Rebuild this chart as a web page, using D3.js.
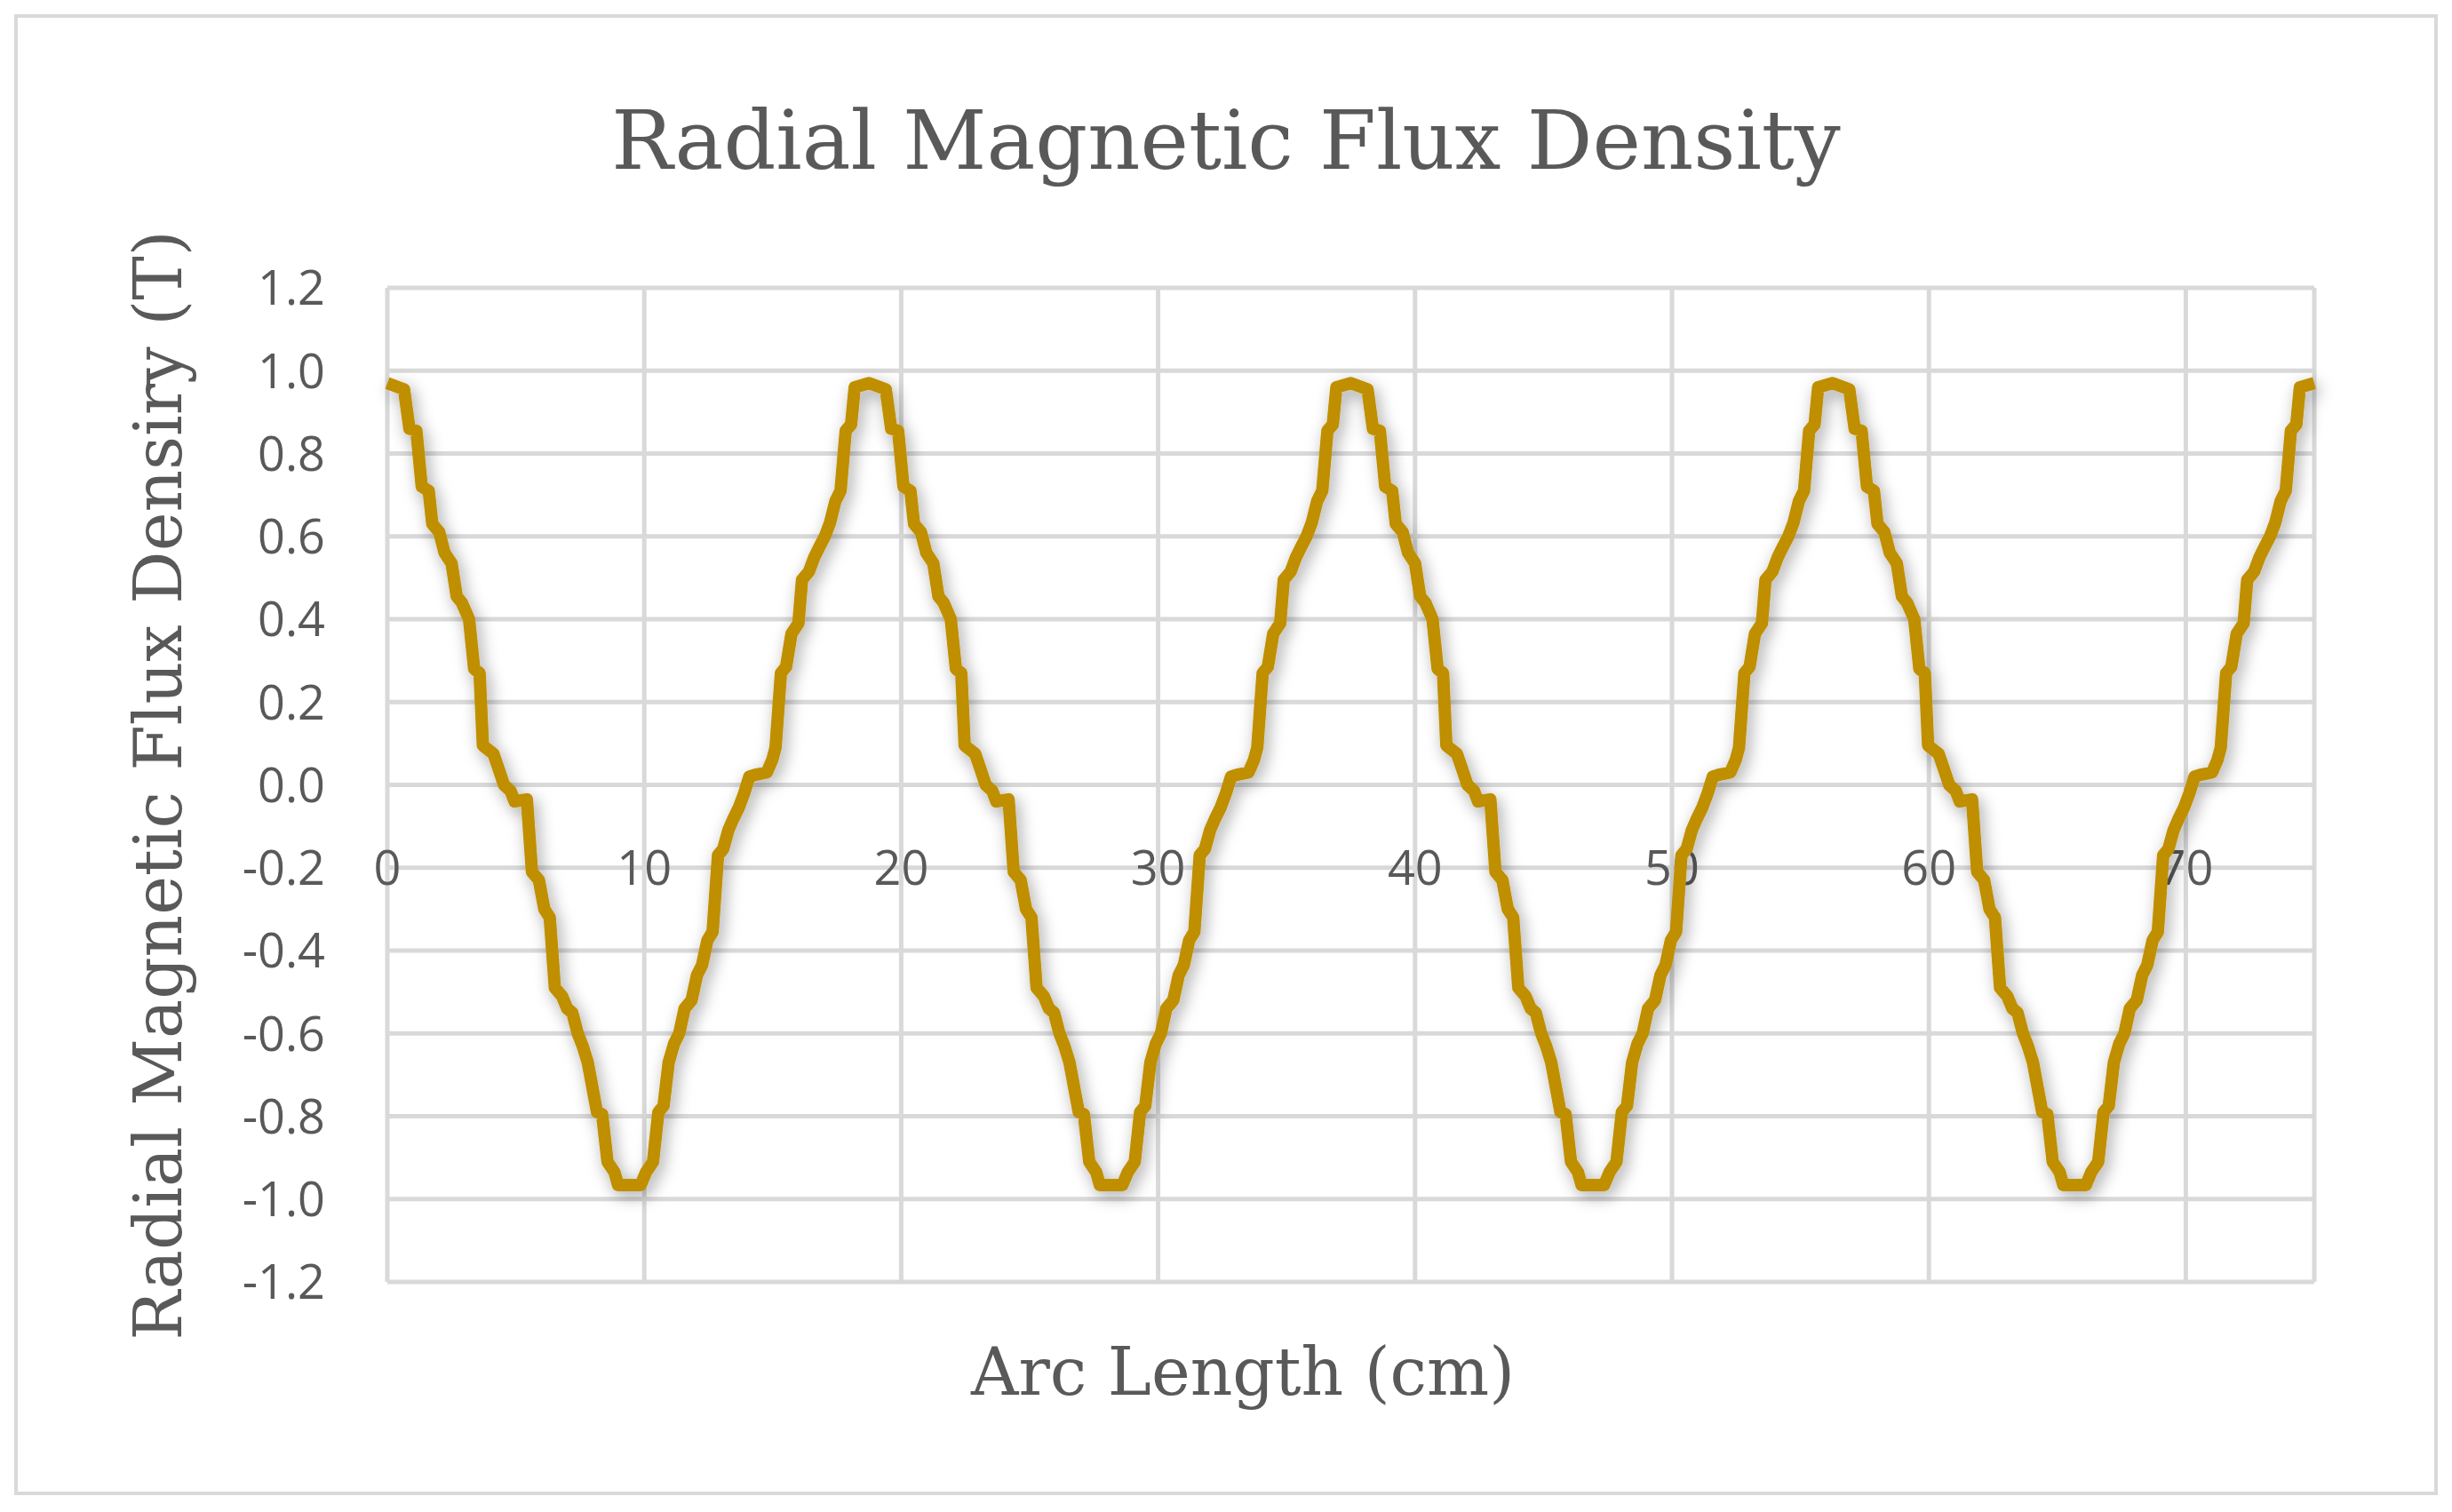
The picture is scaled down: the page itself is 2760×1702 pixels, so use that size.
<!DOCTYPE html>
<html>
<head>
<meta charset="utf-8">
<script src="https://cdn.jsdelivr.net/npm/d3@7"></script>
<style>
  body { margin: 0; background: #fff; }
</style>
</head>
<body>
<svg id="chart" width="2760" height="1702"></svg>
<script>
// ---- data ----
// one period of the wave (arc length cm, flux T), starting at a peak
const periodX = [0, 0.65, 0.86, 1.13, 1.34, 1.61, 1.75, 2.02, 2.23, 2.5, 2.7, 2.9, 3.18, 3.38, 3.59, 3.72,
  4.13, 4.34, 4.54, 4.8, 4.95, 5.43, 5.63, 5.9, 6.11, 6.32, 6.52, 6.8, 7.0, 7.2, 7.41, 7.6, 7.8, 8.16, 8.36,
  8.57, 8.84, 8.98, 9.86, 10.07, 10.34, 10.55, 10.75, 10.95, 11.16, 11.36, 11.57, 11.84, 12.05, 12.25, 12.46,
  12.66, 12.87, 13.07, 13.27, 13.48, 13.68, 13.89, 14.09, 14.37, 14.77, 14.98, 15.11, 15.32, 15.52, 15.73,
  16.0, 16.14, 16.41, 16.62, 16.82, 17.03, 17.23, 17.44, 17.64, 17.84, 18.05, 18.19];
const periodY = [0.97, 0.955, 0.86, 0.855, 0.72, 0.71, 0.63, 0.61, 0.56, 0.535, 0.455, 0.44, 0.40, 0.28, 0.27, 0.095,
  0.075, 0.037, 0.0, -0.015, -0.04, -0.035, -0.21, -0.23, -0.30, -0.32, -0.49, -0.51, -0.54, -0.55, -0.60, -0.63, -0.67, -0.79, -0.795,
  -0.91, -0.935, -0.966, -0.966, -0.935, -0.91, -0.79, -0.775, -0.67, -0.625, -0.60, -0.54, -0.52, -0.46, -0.435, -0.375,
  -0.355, -0.17, -0.155, -0.11, -0.08, -0.055, -0.02, 0.02, 0.025, 0.03, 0.06, 0.09, 0.27, 0.285, 0.365,
  0.39, 0.495, 0.515, 0.55, 0.575, 0.60, 0.633, 0.685, 0.71, 0.855, 0.87, 0.96];
const periodStarts = [0, 18.75, 37.5, 56.25];
const endPoint = [75, 0.97];

const xTicks = [0, 10, 20, 30, 40, 50, 60, 70];
const yTicks = [1.2, 1.0, 0.8, 0.6, 0.4, 0.2, 0.0, -0.2, -0.4, -0.6, -0.8, -1.0, -1.2];

const points = [];
periodStarts.forEach(s => periodX.forEach((px, i) => points.push([s + px, periodY[i]])));
points.push(endPoint);

// ---- layout ----
const svg = d3.select('#chart');
const plotLeft = 436, plotRight = 2605, plotTop = 324, plotBottom = 1443;
const x = d3.scaleLinear().domain([0, 75]).range([plotLeft, plotRight]);
const y = d3.scaleLinear().domain([-1.2, 1.2]).range([plotBottom, plotTop]);
const grey = '#d9d9d9', txt = '#595959';

svg.append('rect').attr('x', 18).attr('y', 18).attr('width', 2724).attr('height', 1663)
  .attr('fill', '#fff').attr('stroke', grey).attr('stroke-width', 4);

// gridlines
svg.append('g').selectAll('line').data(yTicks).join('line')
  .attr('x1', plotLeft).attr('x2', plotRight).attr('y1', d => y(d)).attr('y2', d => y(d))
  .attr('stroke', grey).attr('stroke-width', 5);
svg.append('g').selectAll('line').data(xTicks.concat([75])).join('line')
  .attr('x1', d => x(d)).attr('x2', d => x(d)).attr('y1', plotTop).attr('y2', plotBottom)
  .attr('stroke', grey).attr('stroke-width', 5);

// tick labels
svg.append('g').selectAll('text').data(yTicks).join('text')
  .attr('x', 366).attr('y', d => y(d)).attr('dy', '0.36em').attr('text-anchor', 'end')
  .attr('font-family', 'Open Sans, sans-serif').attr('font-size', 54).attr('fill', txt)
  .text(d => d.toFixed(1));
svg.append('g').selectAll('text').data(xTicks).join('text')
  .attr('x', d => x(d)).attr('y', y(-0.2)).attr('dy', '0.36em').attr('text-anchor', 'middle')
  .attr('font-family', 'Open Sans, sans-serif').attr('font-size', 54).attr('fill', txt)
  .text(d => d);

// shadow + line
const defs = svg.append('defs');
defs.append('filter').attr('id', 'sh').attr('x', '-10%').attr('y', '-10%').attr('width', '120%').attr('height', '120%')
  .append('feDropShadow').attr('dx', 4).attr('dy', 6).attr('stdDeviation', 9)
  .attr('flood-color', '#000').attr('flood-opacity', 0.35);

const line = d3.line().x(d => x(d[0])).y(d => y(d[1]));
svg.append('path').datum(points).attr('d', line).attr('fill', 'none')
  .attr('stroke', '#bf8f00').attr('stroke-width', 14).attr('stroke-linejoin', 'round')
  .attr('filter', 'url(#sh)');

// titles
const serif = 'Palatino Linotype, Book Antiqua, DejaVu Serif, serif';
svg.append('text').attr('x', 1380).attr('y', 190).attr('text-anchor', 'middle')
  .attr('font-family', serif).attr('font-size', 92).attr('fill', txt)
  .text('Radial Magnetic Flux Density');
svg.append('text').attr('x', 1399).attr('y', 1570).attr('text-anchor', 'middle')
  .attr('font-family', serif).attr('font-size', 74).attr('fill', txt)
  .text('Arc Length (cm)');
svg.append('text').attr('transform', 'translate(204,884) rotate(-90)').attr('text-anchor', 'middle')
  .attr('font-family', serif).attr('font-size', 74).attr('fill', txt)
  .text('Radial Magnetic Flux Densiry (T)');
</script>
</body>
</html>
